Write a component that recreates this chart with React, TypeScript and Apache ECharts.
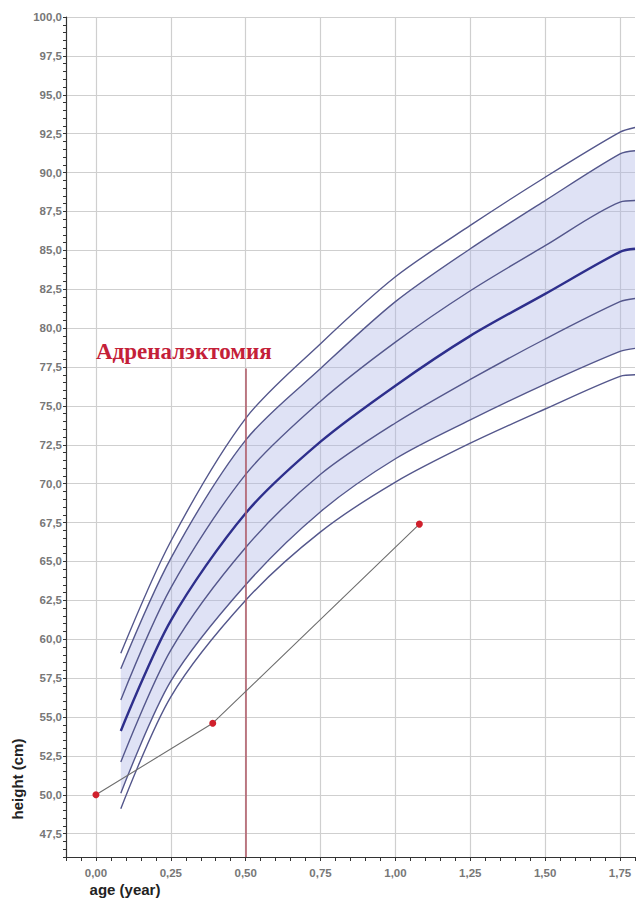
import React, { useEffect, useRef } from "react";
import * as echarts from "echarts";

// Reference percentile curves (height, cm) by age (years)
const ages = [0.083, 0.25, 0.5, 0.75, 1.0, 1.25, 1.5, 1.75, 1.8];
const p97 = [59.1, 66.3, 74.2, 79.0, 83.3, 86.6, 89.7, 92.6, 92.9];
const p90 = [58.1, 65.2, 72.8, 77.4, 81.7, 85.1, 88.2, 91.2, 91.4];
const p75 = [56.1, 63.3, 70.6, 75.3, 79.1, 82.4, 85.3, 88.1, 88.2];
const p50 = [54.1, 61.2, 68.1, 72.7, 76.3, 79.5, 82.2, 84.9, 85.1];
const p25 = [52.1, 59.3, 65.9, 70.6, 73.9, 76.7, 79.3, 81.7, 81.9];
const p10 = [50.1, 57.3, 63.5, 68.2, 71.6, 74.1, 76.4, 78.5, 78.7];
const p3 = [49.1, 56.3, 62.5, 66.9, 70.1, 72.6, 74.8, 76.9, 77.0];

// Patient measurements
const patientAges = [0.0, 0.39, 1.08];
const patientHeights = [50.0, 54.6, 67.4];

// Surgery marker
const surgeryAge = 0.5;
const surgeryTop = 77.4;
const surgeryLabel = "Адреналэктомия";

// Axis settings
const xMin = -0.1;
const xMax = 1.8;
const xStep = 0.05;
const xMajor = 0.25;
const yMin = 46;
const yMax = 100;
const yStep = 0.5;
const yMajor = 2.5;

const isMultiple = (v: number, m: number) => Math.abs(v / m - Math.round(v / m)) < 1e-6;

export default function App() {
  const ref = useRef<HTMLDivElement>(null);
  useEffect(() => {
    document.body.style.margin = "0";
    if (!ref.current) return;
    const chart = echarts.init(ref.current, undefined, { renderer: "svg" });
    const pairs = (ys: number[]) => ages.map((a, i) => [a, ys[i]]);
    // value first so the stack is computed on the y dimension
    const bandBase = ages.map((a, i) => [p10[i], a]);
    const bandDiff = ages.map((a, i) => [+(p90[i] - p10[i]).toFixed(2), a]);
    const curveColor = "#54578c";
    const grid = "#cfcfcf";
    const T = "rgba(0,0,0,0)";
    const xSplitColors = [T, T, grid, T, T];
    const ySplitColors = [T, T, T, grid, T];
    const SMOOTH = 0.3;
    const curve = (name: string, ys: number[], width: number, color: string) => ({
      name,
      type: "line",
      data: pairs(ys),
      showSymbol: false,
      symbol: "none",
      smooth: SMOOTH,
      lineStyle: { color, width },
      z: 3,
    });
    const labelFont = {
      color: "#777777",
      fontWeight: "bold",
      fontSize: 11.5,
      fontFamily: "Liberation Sans, Arial, sans-serif",
    };
    chart.setOption({
      animation: false,
      grid: { left: 66, right: 0, top: 17, bottom: 42, containLabel: false },
      xAxis: {
        type: "value",
        min: xMin,
        max: xMax,
        interval: xStep,
        axisLine: { show: true, onZero: false, lineStyle: { color: "#333", width: 1.2 } },
        axisTick: { show: true, length: 4, lineStyle: { color: "#333" } },
        axisLabel: {
          ...labelFont,
          margin: 10,
          formatter: (v: number) => (isMultiple(v, xMajor) ? v.toFixed(2).replace(".", ",") : ""),
        },
        splitLine: { show: true, lineStyle: { color: xSplitColors, width: 1.2 } },
      },
      yAxis: {
        type: "value",
        min: yMin,
        max: yMax,
        interval: yStep,
        axisLine: { show: true, onZero: false, lineStyle: { color: "#333", width: 1.2 } },
        axisTick: { show: true, length: 3, lineStyle: { color: "#333" } },
        axisLabel: {
          ...labelFont,
          margin: 4,
          formatter: (v: number) => (isMultiple(v, yMajor) ? v.toFixed(1).replace(".", ",") : ""),
        },
        splitLine: { show: true, lineStyle: { color: ySplitColors, width: 1.2 } },
      },
      series: [
        {
          name: "band-base",
          type: "line",
          data: bandBase,
          encode: { x: 1, y: 0 },
          stack: "band",
          smooth: SMOOTH,
          showSymbol: false,
          symbol: "none",
          lineStyle: { width: 0 },
          z: 1,
        },
        {
          name: "band",
          type: "line",
          data: bandDiff,
          encode: { x: 1, y: 0 },
          stack: "band",
          smooth: SMOOTH,
          showSymbol: false,
          symbol: "none",
          lineStyle: { width: 0 },
          areaStyle: { color: "rgba(170,178,230,0.38)", opacity: 1 },
          z: 1,
        },
        curve("P97", p97, 1.4, curveColor),
        curve("P90", p90, 1.4, curveColor),
        curve("P75", p75, 1.4, curveColor),
        curve("P50", p50, 2.4, "#2e2f8c"),
        curve("P25", p25, 1.4, curveColor),
        curve("P10", p10, 1.4, curveColor),
        curve("P3", p3, 1.4, curveColor),
        {
          name: "patient",
          type: "line",
          data: patientAges.map((a, i) => [a, patientHeights[i]]),
          symbol: "circle",
          symbolSize: 7,
          itemStyle: { color: "#d0202c" },
          lineStyle: { color: "#6e6e6e", width: 1.1 },
          z: 5,
          markLine: {
            silent: true,
            symbol: "none",
            label: { show: false },
            lineStyle: { color: "#b2606c", width: 1.6, type: "solid" },
            data: [[{ coord: [surgeryAge, surgeryTop] }, { coord: [surgeryAge, yMin] }]],
          },
        },
      ],
      graphic: [
        {
          type: "text",
          left: 96,
          top: 340,
          style: {
            text: surgeryLabel,
            fill: "#c42038",
            font: 'bold 23px "Liberation Serif", "Times New Roman", serif',
          },
          z: 10,
        },
        {
          type: "text",
          x: 17,
          y: 779,
          rotation: Math.PI / 2,
          style: {
            text: "height (cm)",
            fill: "#222",
            font: 'bold 15px "Liberation Sans", Arial, sans-serif',
            align: "center",
            verticalAlign: "middle",
          },
        },
        {
          type: "text",
          x: 125,
          y: 889,
          style: {
            text: "age (year)",
            fill: "#222",
            font: 'bold 15px "Liberation Sans", Arial, sans-serif',
            align: "center",
            verticalAlign: "middle",
          },
        },
      ],
    });
    return () => chart.dispose();
  }, []);
  return <div ref={ref} style={{ width: 638, height: 899 }} />;
}
